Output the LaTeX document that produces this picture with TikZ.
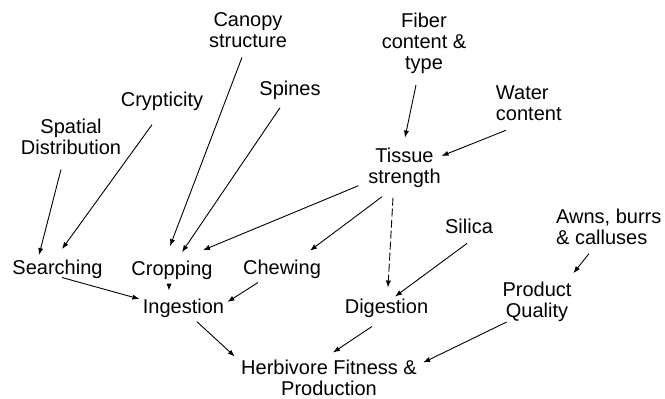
\documentclass[tikz,border=0pt]{standalone}
\usepackage{fontspec}
\setmainfont{Liberation Sans}
\usetikzlibrary{arrows.meta}

\begin{document}
\begin{tikzpicture}[x=.5pt,y=-.5pt,>={Latex[length=3.5pt,width=2.6pt]},font=\fontsize{10}{10.5}\selectfont,
  lbl/.style={inner sep=0pt,align=center},
  lbll/.style={inner sep=0pt,align=left},
  link/.style={->,line width=.45pt},
  weak/.style={link,dash pattern=on 4pt off 1.5pt}]
\useasboundingbox (0,0) rectangle (665,399);
% plant traits
\node[lbl] (canopy) at (248,30.4){Canopy\\structure};
\node[lbl] (spines) at (290,90){Spines};
\node[lbl] (crypt) at (162,101){Crypticity};
\node[lbl] (spatial) at (71,137.2){Spatial\\Distribution};
\node[lbl] (fiber) at (424,43.3){Fiber\\content \&\\type};
\node[lbll] (water) at (528.8,103.4){Water\\content};
\node[lbl] (tissue) at (404.5,167.5){Tissue\\strength};
\node[lbl] (silica) at (469,226.7){Silica};
\node[lbll] (awns) at (608.8,226.4){Awns, burrs\\\& calluses};
% herbivore processes
\node[lbl] (search) at (57.5,269.8){Searching};
\node[lbl] (crop) at (172,269.9){Cropping};
\node[lbl] (chew) at (282,269.8){Chewing};
\node[lbl] (ingest) at (183.5,308){Ingestion};
\node[lbl] (digest) at (386.5,308){Digestion};
\node[lbl] (product) at (537,301.8){Product\\Quality};
\node[lbl] (herb) at (329,378.2){Herbivore Fitness \&\\Production};
% top inputs
\draw[link] ([shift={(-6,9)}]canopy.south)--([shift={(-2,-14)}]crop.north);
\draw[link] ([shift={(-10,8)}]spines.south)--([shift={(10,-8)}]crop.north);
\draw[link] ([shift={(-10,14)}]crypt.south)--([shift={(4.5,-11)}]search.north);
\draw[link] ([shift={(-10,14)}]spatial.south)--([shift={(-18.5,-5)}]search.north);
\draw[link] ([shift={(-8,11)}]fiber.south)--([shift={(.5,-9.7)}]tissue.north);
\draw[link] ([shift={(-22.8,9)}]water.south)--([shift={(.5,-11.5)}]tissue.east);
% tissue strength
\draw[link] ([shift={(-9.5,-2)}]tissue.south west)--([shift={(31,-10)}]crop.north);
\draw[link] ([shift={(-22.5,9)}]tissue.south)--([shift={(28,-9.4)}]chew.north);
\draw[weak] ([shift={(-11.5,10)}]tissue.south)--([shift={(1.5,-10.7)}]digest.north);
\draw[link] ([shift={(-2,9)}]silica.south)--([shift={(8.5,-1.7)}]digest.north);
% ingestion
\draw[link] ([shift={(4.5,-2)}]search.south)--([shift={(-3,-9)}]ingest.west);
\draw[link] ([shift={(-3,4)}]crop.south)--([shift={(-14.5,-7.7)}]ingest.north);
\draw[link] ([shift={(-24,3)}]chew.south)--([shift={(3,-6)}]ingest.east);
% product
\draw[link] ([shift={(-19.8,9)}]awns.south)--([shift={(1.5,-8.4)}]product.north east);
% fitness
\draw[link] ([shift={(13.5,4)}]ingest.south)--([shift={(-6,-3.4)}]herb.north west);
\draw[link] ([shift={(-14.5,8.8)}]digest.south)--([shift={(4,-7.4)}]herb.north);
\draw[link] ([shift={(4.5,0)}]product.south west)--([shift={(6,2.6)}]herb.north east);
\end{tikzpicture}
\end{document}
